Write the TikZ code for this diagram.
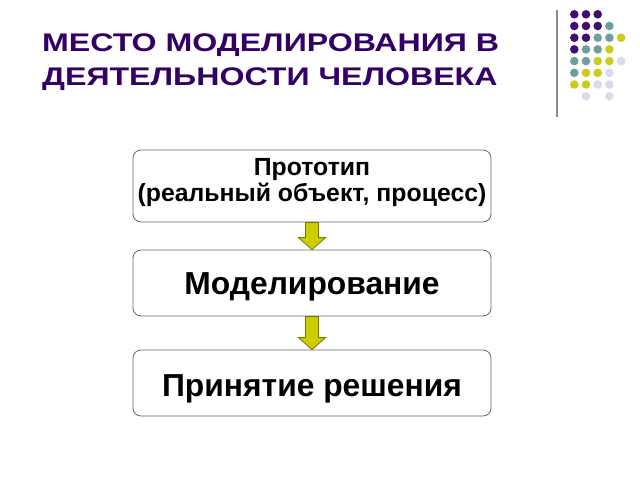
\documentclass[tikz,border=0pt]{standalone}
\usepackage{fontspec}
\setmainfont{Liberation Sans}
\newfontfamily\widesans[FakeStretch=1.26]{Liberation Sans}
\usetikzlibrary{calc}
\definecolor{titlepurple}{RGB}{51,0,102}
\definecolor{dotpurple}{RGB}{66,14,110}
\definecolor{dotteal}{RGB}{110,158,158}
\definecolor{dotyellow}{RGB}{204,204,26}
\definecolor{dotlav}{RGB}{218,218,236}
\definecolor{arrfill}{RGB}{204,204,0}
\definecolor{arrline}{RGB}{120,120,0}
\tikzset{
  stepbox/.style={draw=black!60, line width=0.8pt, rounded corners=8pt, fill=white,
    minimum width=358pt, inner sep=0pt},
  steptext/.style={anchor=base, inner sep=0pt},
  titletext/.style={anchor=base west, inner sep=0pt, text=titlepurple,
    font=\widesans\fontsize{25.5}{30}\selectfont\bfseries},
  fatarrow/.style={fill=arrfill, draw=arrline, line width=0.8pt, line join=miter},
  dotp/.style={fill=dotpurple},
  dott/.style={fill=dotteal},
  doty/.style={fill=dotyellow},
  dotl/.style={fill=dotlav},
}
\begin{document}
\begin{tikzpicture}[x=1pt,y=-1pt]
\useasboundingbox (0,0) rectangle (640,480);
% title
\node[titletext] (title1) at (42,51) {МЕСТО МОДЕЛИРОВАНИЯ В};
\node[titletext] (title2) at (42,85) {ДЕЯТЕЛЬНОСТИ ЧЕЛОВЕКА};
% decoration
\draw[black!45, line width=1.3pt] (557,10) -- (557,117);
\foreach \r/\c/\s in {0/0/dotp,0/1/dotp,0/2/dotp,
  1/0/dotp,1/1/dotp,1/2/dotp,1/3/dott,
  2/0/dotp,2/1/dotp,2/2/dott,2/3/dott,2/4/doty,
  3/0/dotp,3/1/dott,3/2/dott,3/3/doty,
  4/0/dott,4/1/dott,4/2/doty,4/3/doty,4/4/dotl,
  5/0/dott,5/1/doty,5/2/doty,5/3/dotl,
  6/0/doty,6/1/doty,6/2/dotl,6/3/dotl,
  7/1/dotl,7/3/dotl}
  \fill[\s] ({574.3+11.7*\c},{14.3+11.7*\r}) circle (4.3);
% boxes
\node[stepbox, minimum height=72pt] (b1) at (312,186) {};
\node[stepbox, minimum height=66pt] (b2) at (312,283) {};
\node[stepbox, minimum height=66pt] (b3) at (312,383) {};
\node[steptext, font=\fontsize{24.8}{26}\selectfont\bfseries] (t1a) at (312,175.5) {Прототип};
\node[steptext, font=\fontsize{24.8}{26}\selectfont\bfseries] (t1b) at (312,201.5) {(реальный объект, процесс)};
\node[steptext, font=\fontsize{31.8}{34}\selectfont\bfseries] (t2) at (312,294) {Моделирование};
\node[steptext, font=\fontsize{31.8}{34}\selectfont\bfseries] (t3) at (312,396.5) {Принятие решения};
% arrows
\draw[fatarrow] ([xshift=-6.5pt]b1.south) -- ([xshift=-6.5pt,yshift=12pt]b2.north)
  -- ([xshift=-13.5pt,yshift=12pt]b2.north) -- (b2.north) -- ([xshift=13.5pt,yshift=12pt]b2.north)
  -- ([xshift=6.5pt,yshift=12pt]b2.north) -- ([xshift=6.5pt]b1.south) -- cycle;
\draw[fatarrow] ([xshift=-6.5pt]b2.south) -- ([xshift=-6.5pt,yshift=12pt]b3.north)
  -- ([xshift=-13.5pt,yshift=12pt]b3.north) -- (b3.north) -- ([xshift=13.5pt,yshift=12pt]b3.north)
  -- ([xshift=6.5pt,yshift=12pt]b3.north) -- ([xshift=6.5pt]b2.south) -- cycle;
\end{tikzpicture}
\end{document}
